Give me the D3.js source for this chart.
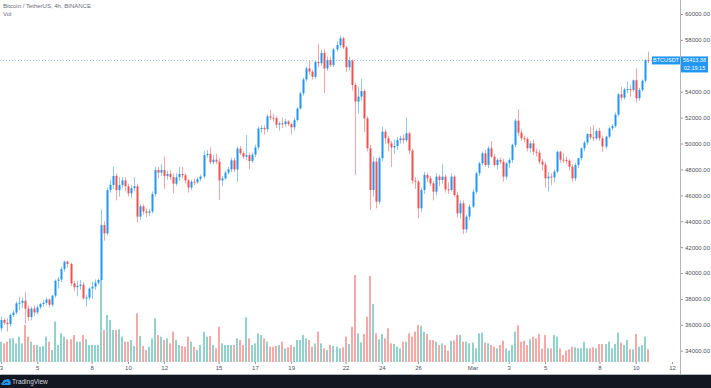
<!DOCTYPE html>
<html>
<head>
  <meta charset="utf-8">
  <title>BTCUSDT 4h</title>
  <script src="https://d3js.org/d3.v7.min.js"></script>
  <style>
    html, body { margin: 0; padding: 0; background: #ffffff; }
    body { width: 711px; height: 388px; overflow: hidden; font-family: 'Liberation Sans', Arial, sans-serif; }
    .axis text { font-family: 'Liberation Sans', Arial, sans-serif; fill: #50535e; }
    .axis line { stroke: #9598a1; }
    .axis path { display: none; }
  </style>
</head>
<body>
  <div id="chart"></div>
  <script>
    // 4h candles, Binance BTCUSDT, first bar Feb 3 2021 00:00 UTC (one line = one day)
    const opens = [
      35730, 36370, 36150, 36050, 36760, 36950,
      37650, 37700, 37850, 37250, 36600, 37250,
      36950, 37350, 37600, 37700, 37950, 37550,
      38250, 39400, 39500, 40300, 40880, 40700,
      39200, 38900, 39000, 39100, 38050, 38100,
      38800, 38950, 39250, 39460, 43700, 43060,
      46400, 46800, 47500, 46400, 46800, 47150,
      46700, 46150, 46550, 46700, 44350, 45150,
      44750, 44650, 44750, 46100, 47950, 47750,
      47950, 47500, 47650, 47400, 46900, 47400,
      47650, 47550, 47150, 46600, 47050, 47000,
      47250, 47450, 49100, 49200, 48550, 48750,
      48600, 47150, 47300, 47750, 48000, 48700,
      48000, 49600, 49250, 48980, 49100, 48650,
      49150, 49700, 51150, 51200, 51100, 52100,
      52000, 51950, 51450, 51550, 51500, 51700,
      51500, 51250, 51800, 52700, 53870, 54950,
      55800, 55550, 55150, 56300, 56200, 57000,
      55800, 56450, 56060, 57270, 57600, 58120,
      57420, 55880, 56400, 54520, 53230, 53620,
      54050, 51940, 49630, 46410, 48600, 45510,
      48860, 50910, 50400, 50010, 49700, 49810,
      50270, 50400, 50250, 50790, 49450, 47130,
      47050, 44990, 46410, 47570, 47310, 46920,
      46280, 47440, 47180, 47440, 46460, 46410,
      47440, 46020, 44610, 45380, 43370, 44350,
      45120, 46280, 47700, 48470, 49240, 48340,
      49630, 48980, 48340, 48730, 48600, 47440,
      48470, 48730, 49890, 51760, 50840, 50400,
      50350, 49630, 50010, 49370, 49290, 48600,
      48370, 47310, 47440, 47390, 47830, 49370,
      48750, 48720, 48680, 48210, 47310, 48340,
      48860, 49630, 50070, 50730, 50480, 50400,
      50970, 50400, 49760, 50530, 51170, 51350,
      52230, 53800, 53540, 54180, 54200, 54130,
      54880, 53490, 54130, 54850, 56450
    ];
    const highs = [
      36630, 36500, 36500, 36880, 37150, 37800,
      38170, 38100, 38550, 37500, 37400, 37500,
      37500, 37700, 37900, 38100, 38050, 38300,
      39500, 39700, 40500, 40950, 40950, 40800,
      39400, 39400, 39450, 39300, 38350, 38900,
      39300, 39500, 39600, 44900, 44000, 46600,
      47200, 48200, 47700, 47400, 47400, 47400,
      46900, 46800, 47400, 46900, 45300, 45300,
      45000, 44950, 46300, 48200, 48200, 48400,
      49000, 47900, 47950, 47700, 47700, 48200,
      48200, 47700, 47250, 47200, 47300, 47400,
      47600, 49450, 49500, 49700, 49100, 49200,
      48900, 47500, 47900, 48200, 48900, 48900,
      49750, 49800, 49400, 50650, 49300, 49300,
      49900, 51300, 51400, 51400, 52250, 52600,
      52300, 52100, 51700, 52000, 51900, 51800,
      51600, 52000, 52800, 54000, 55100, 55950,
      56450, 55700, 56450, 57700, 57250, 57300,
      56700, 56700, 57400, 57900, 58350, 58250,
      57530, 56700, 56500, 54700, 54400, 55000,
      54200, 52100, 49900, 49000, 48900, 49000,
      51300, 51100, 50600, 50200, 50300, 50500,
      50600, 50700, 52020, 50900, 49600, 47400,
      47200, 46600, 47800, 47700, 47500, 47100,
      47700, 47600, 48420, 47600, 47000, 47700,
      47600, 46300, 45600, 45600, 44500, 45300,
      46500, 47800, 48600, 49400, 49500, 49790,
      50200, 49200, 48900, 48900, 48800, 48600,
      48900, 50000, 51900, 52640, 51100, 50600,
      50500, 50200, 50300, 49600, 49500, 48800,
      48600, 47800, 47700, 48000, 49450, 49450,
      49240, 49000, 48800, 48400, 48500, 48900,
      49700, 50200, 50800, 51300, 51430, 51100,
      51200, 50600, 50600, 51300, 51500, 52400,
      53900, 54390, 54300, 54800, 54500, 54950,
      55800, 54300, 54950, 56500, 57090
    ];
    const lows = [
      35470, 36000, 35470, 35850, 36600, 36800,
      37150, 37300, 36100, 36300, 36350, 36700,
      36800, 37200, 37400, 37500, 37350, 37400,
      38100, 38800, 39300, 40100, 40400, 39000,
      38600, 38200, 38700, 37900, 37400, 37900,
      38000, 38700, 39100, 39300, 42500, 42900,
      46200, 46500, 45600, 45900, 46500, 46300,
      45900, 45800, 46300, 43900, 44100, 44500,
      44300, 44400, 44600, 45900, 47300, 47500,
      46500, 47200, 47200, 46150, 46700, 47100,
      47300, 46900, 46200, 46400, 46800, 46900,
      47100, 47300, 48900, 48400, 48400, 48400,
      45650, 46700, 47200, 47600, 47800, 47800,
      47050, 49100, 48800, 48700, 48000, 48500,
      48950, 49500, 50800, 50700, 50900, 51800,
      51700, 51200, 51000, 51200, 51300, 51350,
      50700, 51000, 51700, 52600, 53700, 54800,
      55300, 54950, 55000, 55900, 56000, 53900,
      55600, 55900, 55900, 57100, 57400, 57300,
      55500, 55600, 54100, 47570, 52300, 53300,
      50900, 49400, 44870, 45900, 44990, 45300,
      48600, 50000, 49400, 48200, 49200, 49500,
      50000, 50000, 50100, 49200, 46900, 46500,
      44220, 44700, 46100, 47000, 46700, 45600,
      46000, 46700, 46900, 46200, 46100, 46300,
      45900, 44300, 44200, 43010, 43100, 44100,
      45000, 46100, 47500, 48300, 48200, 48100,
      48900, 48200, 48000, 48400, 47050, 47200,
      48100, 48500, 49700, 50600, 50200, 50100,
      49400, 49300, 49100, 49000, 48400, 47900,
      46600, 46300, 46800, 47000, 47700, 48500,
      48500, 48400, 47900, 47050, 47100, 48100,
      48700, 49400, 49900, 50300, 50200, 50300,
      50200, 49370, 49600, 50400, 51000, 51200,
      52100, 53300, 53400, 53900, 53600, 54000,
      53150, 53300, 54000, 54700, 56200
    ];
    const closes = [
      36370, 36150, 36050, 36760, 36950, 37650,
      37700, 37850, 37250, 36600, 37250, 36950,
      37350, 37600, 37700, 37950, 37550, 38250,
      39400, 39500, 40300, 40880, 40700, 39200,
      38900, 39000, 39100, 38050, 38100, 38800,
      38950, 39250, 39460, 43700, 43060, 46400,
      46800, 47500, 46400, 46800, 47150, 46700,
      46150, 46550, 46700, 44350, 45150, 44750,
      44650, 44750, 46100, 47950, 47750, 47950,
      47500, 47650, 47400, 46900, 47400, 47650,
      47550, 47150, 46600, 47050, 47000, 47250,
      47450, 49100, 49200, 48550, 48750, 48600,
      47150, 47300, 47750, 48000, 48700, 48000,
      49600, 49250, 48980, 49100, 48650, 49150,
      49700, 51150, 51200, 51100, 52100, 52000,
      51950, 51450, 51550, 51500, 51700, 51500,
      51250, 51800, 52700, 53870, 54950, 55800,
      55550, 55150, 56300, 56200, 57000, 55800,
      56450, 56060, 57270, 57600, 58120, 57420,
      55880, 56400, 54520, 53230, 53620, 54050,
      51940, 49630, 46410, 48600, 45510, 48860,
      50910, 50400, 50010, 49700, 49810, 50270,
      50400, 50250, 50790, 49450, 47130, 47050,
      44990, 46410, 47570, 47310, 46920, 46280,
      47440, 47180, 47440, 46460, 46410, 47440,
      46020, 44610, 45380, 43370, 44350, 45120,
      46280, 47700, 48470, 49240, 48340, 49630,
      48980, 48340, 48730, 48600, 47440, 48470,
      48730, 49890, 51760, 50840, 50400, 50350,
      49630, 50010, 49370, 49290, 48600, 48370,
      47310, 47440, 47390, 47830, 49370, 48750,
      48720, 48680, 48210, 47310, 48340, 48860,
      49630, 50070, 50730, 50480, 50400, 50970,
      50400, 49760, 50530, 51170, 51350, 52230,
      53800, 53540, 54180, 54200, 54130, 54880,
      53490, 54130, 54850, 56450, 56413.38
    ];
    // volume, thousand BTC per bar
    const volumes = [
      13.4, 12.3, 13.4, 15.6, 15.6, 12.3,
      16.7, 12.3, 24.4, 16.7, 13.4, 11.2,
      11.2, 10.1, 10.6, 16.7, 13.4, 7.9,
      26.6, 11.2, 18.9, 16.7, 15.0, 15.0,
      17.8, 13.4, 13.4, 17.8, 15.0, 11.2,
      11.2, 11.2, 11.2, 54.1, 21.1, 31.0,
      27.7, 21.1, 21.1, 21.6, 16.7, 13.4,
      13.4, 14.5, 10.6, 32.1, 17.2, 10.6,
      7.9, 10.1, 15.6, 28.8, 17.8, 16.7,
      14.5, 15.6, 12.3, 20.0, 14.5, 11.2,
      10.6, 10.1, 16.7, 13.4, 10.1, 7.9,
      11.2, 20.0, 16.7, 17.2, 11.2, 9.0,
      23.3, 12.3, 11.2, 11.2, 11.2, 11.2,
      15.6, 14.5, 11.2, 29.5, 15.6, 11.2,
      12.3, 18.9, 17.8, 15.6, 13.4, 10.1,
      10.1, 10.6, 11.2, 13.4, 9.0, 9.7,
      11.2, 10.1, 14.5, 14.5, 17.8, 15.6,
      14.5, 10.1, 12.3, 20.0, 12.3, 9.0,
      7.9, 11.2, 10.6, 10.1, 9.0, 9.7,
      16.7, 11.9, 23.3, 57.4, 18.9, 13.0,
      18.5, 29.9, 56.8, 38.3, 18.9, 15.0,
      18.5, 15.6, 22.2, 12.3, 11.9, 10.1,
      9.0, 13.4, 13.4, 18.9, 16.7, 20.0,
      24.4, 23.8, 20.0, 18.5, 14.5, 14.5,
      13.4, 11.2, 12.3, 11.2, 7.5, 14.1,
      14.1, 17.8, 17.8, 13.4, 13.4, 12.3,
      12.8, 9.0, 18.9, 19.4, 12.8, 12.3,
      11.2, 10.1, 9.0, 11.2, 14.1, 9.0,
      7.5, 11.2, 20.0, 24.2, 13.4, 14.1,
      11.2, 15.0, 16.7, 15.6, 18.5, 8.8,
      17.8, 9.0, 9.0, 17.8, 16.7, 9.0,
      4.6, 7.5, 8.4, 10.1, 9.7, 9.0,
      9.0, 13.4, 9.0, 9.0, 9.7, 9.0,
      11.9, 11.9, 11.9, 13.4, 9.0, 11.9,
      19.4, 12.8, 11.2, 14.5, 8.4, 8.4,
      18.5, 10.1, 11.2, 16.7, 8.4
    ];

    const priceTicks = d3.range(34000, 60001, 2000);
    const dateTicks = ["2021-02-03", "2021-02-05", "2021-02-08", "2021-02-10", "2021-02-12",
      "2021-02-15", "2021-02-17", "2021-02-19", "2021-02-22", "2021-02-24", "2021-02-26",
      "2021-03-01", "2021-03-03", "2021-03-05", "2021-03-08", "2021-03-10", "2021-03-12"];
    const dateLabels = ["3", "5", "8", "10", "12", "15", "17", "19", "22", "24", "26",
      "Mar", "3", "5", "8", "10", "12"];
    const title = "Bitcoin / TetherUS, 4h, BINANCE";
    const lastPrice = 56413.38;
    const countdown = "02:19:15";

    const W = 711, H = 388;
    const paneRight = 680, paneBottom = 362, axisBottom = 375;
    const upColor = "#2196f3", downColor = "#ef5350";
    const upWick = "#8fc7f6", downWick = "#f6a5a8";
    const upVol = "#92d2cc", downVol = "#f7a9a7";

    const parse = d3.utcParse("%Y-%m-%d");
    const t0 = Date.UTC(2021, 1, 3, 0, 0);
    const bars = opens.map((o, i) => ({
      t: new Date(t0 + i * 4 * 3600 * 1000),
      o: o, h: highs[i], l: lows[i], c: closes[i], v: volumes[i]
    }));

    const x = d3.scaleUtc()
      .domain([parse("2021-02-03"), parse("2021-03-12")])
      .range([1, 672]);
    const y = d3.scaleLinear().domain([34000, 60000]).range([350.7, 14]);
    const yv = d3.scaleLinear().domain([0, 60]).range([paneBottom, paneBottom - 91]);
    const ly = y(lastPrice);

    const svg = d3.select("#chart").append("svg")
      .attr("width", W).attr("height", H)
      .style("display", "block");

    svg.append("rect").attr("width", W).attr("height", H).attr("fill", "#ffffff");

    const pane = svg.append("g");

    // volume
    pane.selectAll(".vol").data(bars).join("rect")
      .attr("class", "vol")
      .attr("x", d => Math.round(x(d.t)) - 1)
      .attr("width", 2)
      .attr("y", d => yv(d.v))
      .attr("height", d => paneBottom - yv(d.v))
      .attr("fill", d => d.c >= d.o ? upVol : downVol);

    // last price line
    pane.append("line")
      .attr("x1", 0).attr("x2", paneRight)
      .attr("y1", Math.round(ly) + 0.5).attr("y2", Math.round(ly) + 0.5)
      .attr("stroke", upColor).attr("stroke-opacity", 0.55)
      .attr("stroke-dasharray", "1,2");

    // wicks
    pane.selectAll(".wick").data(bars).join("line")
      .attr("class", "wick")
      .attr("x1", d => Math.round(x(d.t)) + 0.5)
      .attr("x2", d => Math.round(x(d.t)) + 0.5)
      .attr("y1", d => y(d.h)).attr("y2", d => y(d.l))
      .attr("stroke", d => d.c >= d.o ? upWick : downWick)
      .attr("stroke-width", 1);

    // bodies
    pane.selectAll(".body").data(bars).join("rect")
      .attr("class", "body")
      .attr("x", d => Math.round(x(d.t)) - 0.5)
      .attr("width", 2)
      .attr("y", d => y(Math.max(d.o, d.c)))
      .attr("height", d => Math.max(1, Math.abs(y(d.o) - y(d.c))))
      .attr("fill", d => d.c >= d.o ? upColor : downColor);

    // title
    svg.append("text").attr("x", 3).attr("y", 7.5)
      .attr("font-size", 6).attr("fill", "#6a6d78").text(title);
    svg.append("text").attr("x", 3).attr("y", 15.5)
      .attr("font-size", 6).attr("fill", "#6a6d78").text("Vol");

    // right price axis (the label hidden by the last price box is left out)
    const shownTicks = priceTicks.filter(v => Math.abs(y(v) - (ly + 4)) > 11);
    const yAxis = svg.append("g").attr("class", "axis")
      .attr("transform", `translate(${paneRight},0)`)
      .call(d3.axisRight(y).tickValues(shownTicks).tickFormat(d3.format(".2f")).tickSize(3).tickPadding(2));
    yAxis.selectAll("text").attr("font-size", 6);

    // bottom time axis
    const xAxis = svg.append("g").attr("class", "axis")
      .attr("transform", `translate(0,${paneBottom})`)
      .call(d3.axisBottom(x).tickValues(dateTicks.map(parse))
        .tickFormat((d, i) => dateLabels[i]).tickSize(2).tickPadding(2));
    xAxis.selectAll("text").attr("font-size", 6);

    // borders
    svg.append("line").attr("x1", paneRight + 0.5).attr("x2", paneRight + 0.5)
      .attr("y1", 0).attr("y2", axisBottom).attr("stroke", "#b2b5be");
    svg.append("line").attr("x1", 0).attr("x2", W)
      .attr("y1", axisBottom - 0.5).attr("y2", axisBottom - 0.5).attr("stroke", "#b2b5be");

    // last price labels
    svg.append("rect").attr("x", 652).attr("y", ly - 4).attr("width", 28).attr("height", 8)
      .attr("fill", upColor);
    svg.append("text").attr("x", 666).attr("y", ly + 2).attr("text-anchor", "middle")
      .attr("font-size", 5.5).attr("fill", "#ffffff").text("BTCUSDT");
    svg.append("rect").attr("x", 681).attr("y", ly - 4).attr("width", 27).attr("height", 16)
      .attr("fill", upColor);
    svg.append("text").attr("x", 694.5).attr("y", ly + 2).attr("text-anchor", "middle")
      .attr("font-size", 5.5).attr("fill", "#ffffff").text(d3.format(".2f")(lastPrice));
    svg.append("text").attr("x", 694.5).attr("y", ly + 10).attr("text-anchor", "middle")
      .attr("font-size", 5.5).attr("fill", "#ffffff").text(countdown);

    // footer
    svg.append("rect").attr("x", 0).attr("y", axisBottom).attr("width", W).attr("height", H - axisBottom)
      .attr("fill", "#131722");
    const logo = svg.append("g").attr("transform", `translate(1,${axisBottom + 3})`);
    logo.append("path")
      .attr("d", "M1,7 C0,7 0,4 2,4 C2,2 4,1 5,2 C6,0 9,1 9,3 C10,3 10,7 9,7 Z")
      .attr("fill", "#2196f3");
    logo.append("path").attr("d", "M3,6 L5,4 L7,5").attr("stroke", "#131722")
      .attr("stroke-width", 0.8).attr("fill", "none");
    svg.append("text").attr("x", 12).attr("y", axisBottom + 9).attr("font-size", 6.5)
      .attr("fill", "#d1d4dc").text("TradingView");
  </script>
</body>
</html>
